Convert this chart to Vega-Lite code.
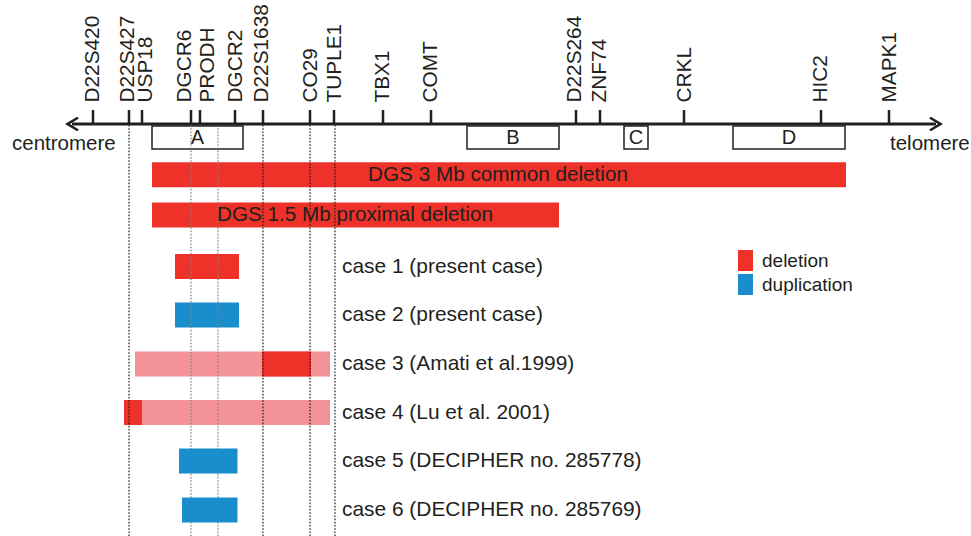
{
  "$schema": "https://vega.github.io/schema/vega-lite/v6.json",
  "width": 971,
  "height": 536,
  "padding": 0,
  "autosize": "none",
  "background": "white",
  "config": {"view": {"stroke": null}, "text": {"font": "Liberation Sans", "color": "#231f20"}},
  "datasets": {
    "markers": [
      {"name": "D22S420", "pos": 93, "lx": 92.5},
      {"name": "D22S427", "pos": 129, "lx": 127.5},
      {"name": "USP18", "pos": 142, "lx": 145.5},
      {"name": "DGCR6", "pos": 191, "lx": 184.5},
      {"name": "PRODH", "pos": 200, "lx": 207.5},
      {"name": "DGCR2", "pos": 235, "lx": 236},
      {"name": "D22S1638", "pos": 263, "lx": 261.5},
      {"name": "CO29", "pos": 310, "lx": 310.5},
      {"name": "TUPLE1", "pos": 334, "lx": 334.5},
      {"name": "TBX1", "pos": 383, "lx": 382.5},
      {"name": "COMT", "pos": 431, "lx": 430.5},
      {"name": "D22S264", "pos": 576, "lx": 575},
      {"name": "ZNF74", "pos": 600, "lx": 599.5},
      {"name": "CRKL", "pos": 684, "lx": 684.5},
      {"name": "HIC2", "pos": 821, "lx": 821},
      {"name": "MAPK1", "pos": 889, "lx": 889.5}
    ],
    "lcr": [
      {"name": "A", "start": 152, "end": 243, "mid": 197.5},
      {"name": "B", "start": 467, "end": 559, "mid": 513},
      {"name": "C", "start": 624, "end": 648, "mid": 636},
      {"name": "D", "start": 733, "end": 845, "mid": 789}
    ],
    "vlines": [
      {"pos": 129, "tone": "dark"},
      {"pos": 191, "tone": "gray"},
      {"pos": 218, "tone": "gray"},
      {"pos": 263, "tone": "dark"},
      {"pos": 310, "tone": "dark"},
      {"pos": 335, "tone": "dark"}
    ],
    "bars": [
      {"id": "DGS3", "row": 174.7, "start": 152, "end": 846, "kind": "deletion", "front": 0},
      {"id": "DGS1.5", "row": 215, "start": 152, "end": 559, "kind": "deletion", "front": 0},
      {"id": "case1", "row": 266.5, "start": 175, "end": 239, "kind": "deletion", "front": 0},
      {"id": "case2", "row": 315, "start": 175, "end": 239, "kind": "duplication", "front": 0},
      {"id": "case3", "row": 364, "start": 135, "end": 330, "kind": "uncertain", "front": 0},
      {"id": "case3", "row": 364, "start": 262, "end": 311, "kind": "deletion", "front": 0},
      {"id": "case4", "row": 412.5, "start": 124, "end": 330, "kind": "uncertain", "front": 0},
      {"id": "case4", "row": 412.5, "start": 124, "end": 142, "kind": "deletion", "front": 0},
      {"id": "case5", "row": 461, "start": 179, "end": 237.5, "kind": "duplication", "front": 1},
      {"id": "case6", "row": 510, "start": 182, "end": 237.5, "kind": "duplication", "front": 1}
    ],
    "inbar": [
      {"text": "DGS 3 Mb common deletion", "pos": 498, "row": 174.7},
      {"text": "DGS 1.5 Mb proximal deletion", "pos": 355, "row": 215}
    ],
    "cases": [
      {"text": "case 1 (present case)", "row": 266.5},
      {"text": "case 2 (present case)", "row": 315},
      {"text": "case 3 (Amati et al.1999)", "row": 364},
      {"text": "case 4 (Lu et al. 2001)", "row": 412.5},
      {"text": "case 5 (DECIPHER no. 285778)", "row": 461},
      {"text": "case 6 (DECIPHER no. 285769)", "row": 510}
    ],
    "axisline": [{"from": 72, "to": 936}],
    "ends": [
      {"pos": 74, "dir": "left", "label": "centromere", "lpos": 12},
      {"pos": 934, "dir": "right", "label": "telomere", "lpos": 890}
    ]
  },
  "layer": [
    {
      "data": {"name": "lcr"},
      "mark": {"type": "rect", "fill": "white", "stroke": "#231f20", "strokeWidth": 1.5},
      "encoding": {
        "x": {"field": "start", "type": "quantitative", "scale": {"domain": [0, 971], "nice": false, "zero": false}, "axis": null},
        "x2": {"field": "end"},
        "y": {"datum": 126, "type": "quantitative", "scale": {"domain": [0, 536], "reverse": true, "nice": false, "zero": false}, "axis": null},
        "y2": {"datum": 149}
      }
    },
    {
      "data": {"name": "lcr"},
      "mark": {"type": "text", "fontSize": 20, "align": "center", "baseline": "middle"},
      "encoding": {
        "x": {"field": "mid", "type": "quantitative", "axis": null},
        "y": {"datum": 137.5, "type": "quantitative", "axis": null},
        "text": {"field": "name"}
      }
    },
    {
      "data": {"name": "bars"},
      "transform": [{"filter": "datum.front == 0"}],
      "mark": {"type": "rect", "height": 25},
      "encoding": {
        "x": {"field": "start", "type": "quantitative", "axis": null},
        "x2": {"field": "end"},
        "y": {"field": "row", "type": "quantitative", "axis": null},
        "color": {
          "field": "kind",
          "type": "nominal",
          "scale": {"domain": ["deletion", "duplication", "uncertain"], "range": ["#ee3129", "#1a8dcc", "#f39297"]},
          "legend": {
            "orient": "none",
            "legendX": 735,
            "legendY": 250,
            "title": null,
            "values": ["deletion", "duplication"],
            "symbolType": "M-0.714,-1L0.714,-1L0.714,1L-0.714,1Z",
            "symbolSize": 441,
            "symbolStrokeWidth": 0,
            "symbolOpacity": 1,
            "labelFont": "Liberation Sans",
            "labelFontSize": 19,
            "labelColor": "#231f20",
            "labelOffset": 6,
            "rowPadding": 3
          }
        }
      }
    },
    {
      "data": {"name": "vlines"},
      "mark": {"type": "rule", "strokeDash": [1.6, 1.6], "strokeWidth": 1.2},
      "encoding": {
        "x": {"field": "pos", "type": "quantitative", "axis": null},
        "y": {"datum": 125, "type": "quantitative", "axis": null},
        "y2": {"datum": 536},
        "stroke": {"field": "tone", "type": "nominal", "scale": {"domain": ["dark", "gray"], "range": ["#231f20", "#808080"]}, "legend": null}
      }
    },
    {
      "data": {"name": "bars"},
      "transform": [{"filter": "datum.front == 1"}],
      "mark": {"type": "rect", "height": 25},
      "encoding": {
        "x": {"field": "start", "type": "quantitative", "axis": null},
        "x2": {"field": "end"},
        "y": {"field": "row", "type": "quantitative", "axis": null},
        "color": {"field": "kind", "type": "nominal"}
      }
    },
    {
      "data": {"name": "inbar"},
      "mark": {"type": "text", "fontSize": 20.7, "align": "center", "baseline": "middle"},
      "encoding": {
        "x": {"field": "pos", "type": "quantitative", "axis": null},
        "y": {"field": "row", "type": "quantitative", "axis": null},
        "text": {"field": "text"}
      }
    },
    {
      "data": {"name": "cases"},
      "mark": {"type": "text", "fontSize": 20.9, "align": "left", "baseline": "middle"},
      "encoding": {
        "x": {"datum": 342, "type": "quantitative", "axis": null},
        "y": {"field": "row", "type": "quantitative", "axis": null},
        "text": {"field": "text"}
      }
    },
    {
      "data": {"name": "axisline"},
      "mark": {"type": "rule", "strokeWidth": 3, "color": "#231f20"},
      "encoding": {
        "x": {"field": "from", "type": "quantitative", "axis": null},
        "x2": {"field": "to"},
        "y": {"datum": 124, "type": "quantitative", "axis": null}
      }
    },
    {
      "data": {"name": "markers"},
      "mark": {"type": "rule", "strokeWidth": 2.5, "color": "#231f20"},
      "encoding": {
        "x": {"field": "pos", "type": "quantitative", "axis": null},
        "y": {"datum": 110, "type": "quantitative", "axis": null},
        "y2": {"datum": 124}
      }
    },
    {
      "data": {"name": "ends"},
      "mark": {"type": "point", "filled": true, "size": 324, "opacity": 1, "color": "#231f20"},
      "encoding": {
        "x": {"field": "pos", "type": "quantitative", "axis": null},
        "y": {"datum": 124, "type": "quantitative", "axis": null},
        "shape": {"field": "dir", "type": "nominal", "scale": {"domain": ["left", "right"], "range": ["M-1,0L0.35,-0.8L0.55,-0.6L-0.45,0L0.55,0.6L0.35,0.8Z", "M1,0L-0.35,-0.8L-0.55,-0.6L0.45,0L-0.55,0.6L-0.35,0.8Z"]}, "legend": null}
      }
    },
    {
      "data": {"name": "ends"},
      "mark": {"type": "text", "fontSize": 20.5, "align": "left", "baseline": "alphabetic"},
      "encoding": {
        "x": {"field": "lpos", "type": "quantitative", "axis": null},
        "y": {"datum": 150, "type": "quantitative", "axis": null},
        "text": {"field": "label"}
      }
    },
    {
      "data": {"name": "markers"},
      "mark": {"type": "text", "fontSize": 20.8, "angle": 270, "align": "left", "baseline": "middle"},
      "encoding": {
        "x": {"field": "lx", "type": "quantitative", "axis": null},
        "y": {"datum": 102.5, "type": "quantitative", "axis": null},
        "text": {"field": "name"}
      }
    }
  ]
}
